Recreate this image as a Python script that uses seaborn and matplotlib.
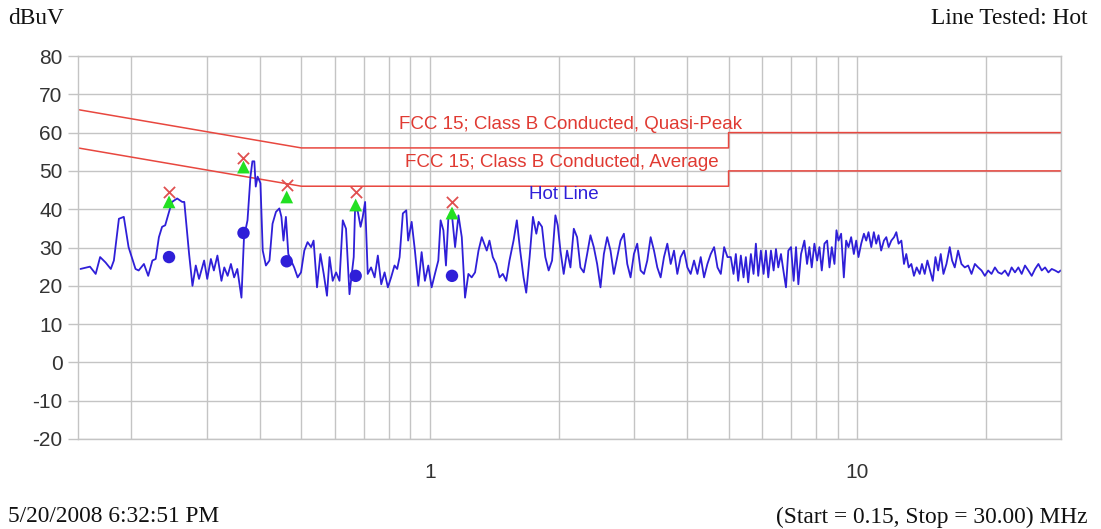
import matplotlib
matplotlib.use("Agg")
import matplotlib.pyplot as plt
import matplotlib.ticker as mticker
import seaborn as sns
import pandas as pd

# ---------------- data ----------------
seg1_freq = [0.152,0.160,0.165,0.169,0.174,0.179,0.182,0.187,0.192,0.197,0.2045,0.208,0.214,0.219,0.224,0.228,
             0.232,0.236,0.240,0.245,0.249,0.256,0.263,0.266,0.273,0.278,0.283,0.288,0.296,0.301,0.307,0.312,
             0.318,0.325,0.330,0.336,0.342,0.348,0.354,0.362,0.367,0.374,0.380,0.384,0.388,0.391,0.395,0.401,
             0.406,0.413,0.421,0.428,0.436,0.444,0.449,0.454,0.460,0.466,0.473,0.481,0.490,0.499,0.508,0.517,
             0.527,0.534,0.544,0.554,0.564,0.574,0.582,0.592,0.603,0.614,0.625,0.636,0.648,0.663,0.668,0.678,
             0.688,0.696,0.705,0.715,0.728,0.742,0.755,0.769,0.783,0.797,0.811,0.826,0.838,0.849,0.864,0.880]
seg1_level = [24.4,25.0,23.1,27.5,26.1,24.4,26.6,37.5,38.0,30.1,24.4,24.0,25.7,22.6,26.6,27.0,
              32.7,35.4,35.8,39.3,41.9,42.8,41.9,41.9,28.3,20.0,25.3,21.8,26.6,21.8,27.0,24.0,
              27.9,21.3,24.8,22.6,25.7,22.2,24.4,16.9,32.7,37.1,48.5,52.5,52.5,45.9,48.5,46.8,
              29.2,25.3,26.6,36.2,39.3,40.2,38.0,31.8,38.0,28.3,26.6,24.8,22.2,23.5,29.2,31.4,
              30.1,31.8,19.6,28.3,23.1,17.4,27.5,21.3,23.5,21.3,37.1,34.9,17.8,27.5,40.6,39.3,
              35.4,38.0,41.9,23.1,24.8,22.2,27.9,20.4,23.5,19.6,22.2,25.3,24.4,27.5,38.9,39.7]

seg2_freq = [0.889,0.906,0.922,0.939,0.956,0.973,0.991,1.009,1.027,1.046,1.059,1.075,1.090,1.104,1.124,
             1.145,1.166,1.187,1.208,1.230,1.252,1.275,1.299,1.322,1.339,1.358,1.378,1.403,1.428,1.455,
             1.481,1.508,1.535,1.569,1.597,1.626,1.656,1.680,1.711,1.742,1.774,1.796,1.829,1.862,1.896,
             1.931,1.966,1.991,2.020,2.056,2.094,2.132,2.171,2.210,2.250,2.291,2.333,2.375,2.418,2.462,
             2.507,2.553,2.599,2.646,2.694,2.743,2.793,2.844,2.896,2.948,3.002,3.056,3.112,3.169,3.226,
             3.285,3.345,3.405,3.467,3.530,3.594,3.660,3.726,3.793,3.862,3.933,4.004,4.076,4.151,4.227,
             4.303,4.381,4.461,4.542,4.625,4.710,4.795,4.882,4.971]
seg2_level = [31.8,36.7,29.2,20.0,28.8,21.3,25.3,19.6,23.1,26.6,37.1,34.5,25.3,37.5,39.3,
              30.1,38.4,32.7,16.9,23.1,22.2,23.5,29.2,32.7,31.0,29.2,31.8,27.5,25.7,22.2,
              23.1,21.3,26.6,31.8,37.1,29.2,22.2,18.2,27.5,38.0,33.6,36.7,35.4,27.5,24.0,
              26.6,38.4,35.8,29.2,23.1,29.2,24.8,34.9,32.7,24.8,23.5,28.3,33.2,30.1,25.7,
              19.6,28.3,32.7,29.2,23.1,27.5,31.8,33.6,25.7,22.2,28.3,31.0,24.0,23.1,26.6,
              32.7,29.2,24.8,22.2,27.5,31.0,25.7,29.2,23.1,27.5,29.2,24.8,23.1,26.6,23.1,
              27.5,22.2,25.7,28.3,30.1,24.8,23.1,30.1,27.5]

seg3_freq = [5.06,5.135,5.200,5.266,5.342,5.420,5.488,5.558,5.639,5.720,5.793,5.867,5.951,6.038,6.115,
             6.193,6.283,6.374,6.455,6.536,6.632,6.729,6.813,6.900,7.000,7.101,7.192,7.283,7.389,7.524,
             7.633,7.730,7.828,7.941,8.057,8.159,8.263,8.383,8.505,8.613,8.721,8.848,8.944,9.042,9.172,
             9.306,9.423,9.544,9.681,9.822,9.947,10.07,10.22,10.37,10.50,10.63,10.79,10.94,11.08,11.22,
             11.38,11.55,11.70,11.85,12.02,12.20,12.35,12.50,12.69,12.87,13.03,13.20,13.39,13.58,13.78,
             14.01,14.18,14.39,14.60,14.81,15.03,15.25,15.47,15.69,15.92,16.18,16.47,16.68,16.92,17.23,
             17.54,17.86,18.19,18.52,18.86,19.20,19.55,19.90,20.26,20.63,21.01,21.39,21.78,22.18,22.58,
             22.99,23.41,23.84,24.27,24.71,25.16,25.62,26.09,26.56,27.04,27.53,28.03,28.54,29.06,29.58,29.95]
seg3_level = [27.5,23.1,28.3,21.3,27.9,22.2,27.5,20.9,28.3,23.1,31.0,22.6,29.2,23.1,29.2,
              22.2,29.2,24.0,29.6,24.8,28.3,23.5,19.6,29.2,30.1,21.3,30.1,20.4,28.3,31.8,
              25.7,30.1,24.8,31.0,26.6,30.1,24.0,31.0,31.8,24.8,30.1,25.7,34.5,31.8,33.6,
              22.2,31.8,30.1,32.7,28.3,31.8,27.5,31.0,33.6,31.8,34.0,30.1,34.0,31.0,33.2,
              29.2,31.8,32.7,30.1,31.8,32.7,34.0,31.0,31.8,25.7,28.3,24.8,25.7,22.6,24.8,
              23.1,25.7,23.1,26.6,24.0,21.3,27.5,24.0,28.3,23.1,25.7,30.1,26.6,24.8,29.2,
              25.7,24.8,25.3,23.1,25.7,24.8,24.0,22.6,24.0,23.1,24.8,23.5,23.1,24.0,22.6,
              24.8,23.5,24.8,23.1,25.3,24.0,22.6,24.4,25.7,24.0,24.8,23.5,24.4,24.0,23.5,24.0]

# FCC 15 Class B limits
limit_freq = [0.15, 0.5, 5.0, 5.0, 30.0]
qp_limit = [66, 56, 56, 60, 60]
avg_limit = [56, 46, 46, 50, 50]

# measured points
peak_freq = [0.245, 0.366, 0.462, 0.670, 1.126]
peak_x = [44.5, 53.4, 46.3, 44.5, 41.9]
peak_tri = [41.9, 51.0, 43.2, 41.1, 39.0]
peak_dot = [27.5, 33.8, 26.4, 22.6, 22.6]

y_ticks = [80, 70, 60, 50, 40, 30, 20, 10, 0, -10, -20]

# ---------------- plot ----------------
sns.set_theme(style="white")
plt.rcParams['font.family'] = ['Liberation Sans', 'DejaVu Sans']

fig = plt.figure(figsize=(11.01, 5.29), dpi=100)
ax = fig.add_axes([78/1101, 1-439/529, (1061-78)/1101, (439-56)/529])

trace = pd.DataFrame({"freq": seg1_freq + seg2_freq + seg3_freq,
                      "level": seg1_level + seg2_level + seg3_level})
lim = pd.DataFrame({"freq": limit_freq, "qp": qp_limit, "avg": avg_limit})
pk = pd.DataFrame({"freq": peak_freq, "x": peak_x, "tri": peak_tri, "dot": peak_dot})

red = "#e8473f"
blue = "#2f1fd8"
grid = "#c4c4c4"

sns.lineplot(data=lim, x="freq", y="qp", ax=ax, color=red, lw=1.1, estimator=None, sort=False)
sns.lineplot(data=lim, x="freq", y="avg", ax=ax, color=red, lw=1.1, estimator=None, sort=False)
sns.lineplot(data=trace, x="freq", y="level", ax=ax, color=blue, lw=1.3, estimator=None, sort=False)

sns.scatterplot(data=pk, x="freq", y="dot", ax=ax, color=blue, s=80, edgecolor="none", zorder=5)
sns.scatterplot(data=pk, x="freq", y="tri", ax=ax, color="#22e022", marker="^", s=85, edgecolor="none", zorder=5)
sns.scatterplot(data=pk, x="freq", y="x", ax=ax, color="#e05050", marker="x", s=65, linewidth=1.3, zorder=6)

ax.set_xscale("log")
ax.set_xlim(0.15, 30)
ax.set_ylim(-20, 80)
ax.set_yticks(y_ticks)
ax.yaxis.set_major_formatter(mticker.FormatStrFormatter("%d"))
ax.set_xticks([1, 10])
ax.set_xticklabels(["1", "10"])
ax.xaxis.set_minor_locator(mticker.FixedLocator([0.2,0.3,0.4,0.5,0.6,0.7,0.8,0.9,2,3,4,5,6,7,8,9,20,30]))
ax.xaxis.set_minor_formatter(mticker.NullFormatter())

ax.grid(True, which="both", axis="x", color=grid, lw=1)
ax.grid(True, which="major", axis="y", color=grid, lw=1)
ax.set_axisbelow(True)
for s in ax.spines.values():
    s.set_color(grid)
    s.set_linewidth(1)

ax.tick_params(axis="x", which="major", length=10, color=grid, width=1, labelsize=15, labelcolor="#333333", pad=7)
ax.tick_params(axis="x", which="minor", length=0)
ax.tick_params(axis="y", which="major", length=7, color=grid, width=1, labelsize=15, labelcolor="#333333", pad=4, left=True)
ax.set_xlabel("")
ax.set_ylabel("")

ax.text(2.13, 62.0, "FCC 15; Class B Conducted, Quasi-Peak", color="#e03a32", fontsize=13.5, ha="center", va="center")
ax.text(2.03, 52.1, "FCC 15; Class B Conducted, Average", color="#e03a32", fontsize=13.5, ha="center", va="center")
ax.text(2.06, 43.8, "Hot Line", color=blue, fontsize=13.5, ha="center", va="center")

serif = ['Liberation Serif', 'DejaVu Serif']
fig.text(8/1101, 1-18/529, "dBuV", family=serif, fontsize=16.8, ha="left", va="center", color="#111111")
fig.text(1088/1101, 1-18/529, "Line Tested: Hot", family=serif, fontsize=16.8, ha="right", va="center", color="#111111")
fig.text(8/1101, 1-517/529, "5/20/2008 6:32:51 PM", family=serif, fontsize=16.8, ha="left", va="center", color="#111111")
fig.text(1088/1101, 1-517/529, "(Start = 0.15, Stop = 30.00) MHz", family=serif, fontsize=16.8, ha="right", va="center", color="#111111")

fig.savefig("out.png", dpi=100)
